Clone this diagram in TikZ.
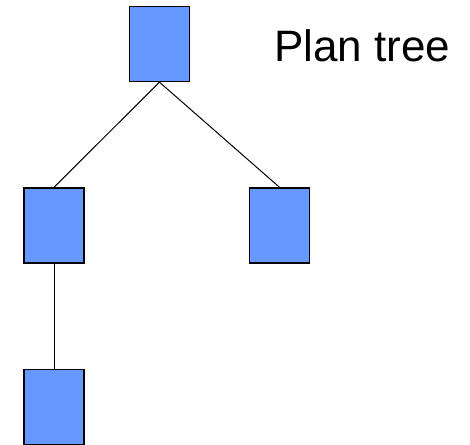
\documentclass[tikz,border=0pt]{standalone}
\usepackage{fontspec}
\setmainfont{Liberation Sans}
\usepackage{tikz}

\definecolor{planblue}{RGB}{102,153,255}

\begin{document}
\begin{tikzpicture}[x=1pt,y=1pt,
    plannode/.style={draw=black,line width=1.4pt,fill=planblue,minimum width=60pt,minimum height=75pt,inner sep=0pt},
    edge/.style={line width=1pt}]
            \useasboundingbox (0,0) rectangle (470,444);
            \node[plannode] (R) at (159.5,400) {};
            \node[plannode] (A) at (54,218.5) {};
            \node[plannode] (B) at (279.5,218.5) {};
            \node[plannode] (C) at (54,37) {};
            \draw[edge] (R.south) -- (A.north);
            \draw[edge] (R.south) -- (B.north);
            \draw[edge] (A.south) -- (C.north);
            \node[anchor=base west,font=\fontsize{44}{50}\selectfont,inner sep=0pt] (title) at (274,382) {Plan tree};
        \end{tikzpicture}
\end{document}
